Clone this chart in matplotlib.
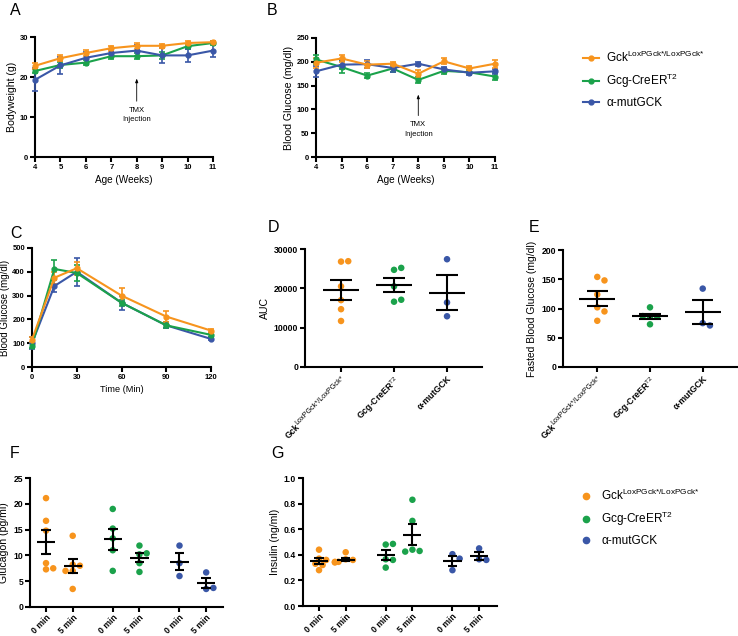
import numpy as np
import matplotlib
matplotlib.use('Agg')
import matplotlib.pyplot as plt
from matplotlib.lines import Line2D

plt.rcParams['font.family'] = 'Liberation Sans'
plt.rcParams['font.weight'] = 'bold'
plt.rcParams['mathtext.fontset'] = 'custom'
plt.rcParams['mathtext.rm'] = 'Liberation Sans:weight=normal'
plt.rcParams['mathtext.it'] = 'Liberation Sans:italic:weight=normal'
plt.rcParams['mathtext.bf'] = 'Liberation Sans:bold'

ORANGE, GREEN, BLUE = '#F7941D', '#1BA24B', '#3A57A7'
colors = [ORANGE, GREEN, BLUE]
names = ['Gck$^{\\mathrm{LoxPGck{*}/LoxPGck{*}}}$', 'Gcg-CreER$^{\\mathrm{T2}}$', '\u03b1-mutGCK']

# A - bodyweight
weeks = [4, 5, 6, 7, 8, 9, 10, 11]
bw_ctrl = [22.8, 24.7, 26.0, 27.2, 27.8, 27.8, 28.5, 28.7]
bw_ctrl_err = [0.8, 0.7, 0.8, 0.6, 0.7, 0.5, 0.4, 0.4]
bw_cre = [21.5, 23.0, 23.6, 25.2, 25.2, 25.4, 27.7, 28.5]
bw_cre_err = [0.6, 0.8, 0.7, 0.6, 0.7, 0.8, 0.6, 0.5]
bw_mut = [19.3, 22.9, 24.8, 26.0, 26.6, 25.4, 25.4, 26.6]
bw_mut_err = [2.9, 2.2, 1.4, 0.9, 1.3, 1.8, 1.6, 1.6]

# B - blood glucose
bg_ctrl = [198, 207, 194, 196, 175, 201, 186, 196]
bg_ctrl_err = [10, 8, 7, 4, 8, 6, 5, 8]
bg_cre = [205, 189, 171, 186, 162, 181, 178, 169]
bg_cre_err = [10, 12, 6, 7, 6, 6, 4, 7]
bg_mut = [180, 194, 195, 187, 196, 184, 177, 180]
bg_mut_err = [12, 10, 8, 8, 4, 6, 4, 5]

# C - GTT
gtt_t = [0, 15, 30, 60, 90, 120]
gtt_ctrl = [115, 375, 415, 300, 212, 153]
gtt_ctrl_err = [12, 25, 28, 30, 22, 8]
gtt_cre = [90, 412, 395, 270, 175, 135]
gtt_cre_err = [10, 38, 35, 12, 12, 8]
gtt_mut = [100, 340, 400, 270, 175, 118]
gtt_mut_err = [25, 25, 60, 30, 12, 6]

# D - AUC
auc_ctrl = [26800, 26900, 20500, 17000, 14700, 11700]
auc_cre = [24700, 25200, 20500, 16600, 17100]
auc_mut = [27400, 16400, 12900]

# E - fasted blood glucose
fbg_ctrl = [154, 148, 124, 102, 95, 79]
fbg_cre = [102, 86, 86, 87, 73]
fbg_mut = [134, 75, 71]

# F - glucagon (0 min, 5 min per group)
gcg_ctrl_0 = [21.1, 16.7, 14.8, 8.5, 7.3, 7.5]
gcg_ctrl_5 = [13.8, 8.2, 7.0, 8.0, 7.0, 3.5]
gcg_cre_0 = [19.0, 15.2, 13.3, 11.0, 7.0]
gcg_cre_5 = [11.9, 10.2, 10.4, 8.5, 6.8]
gcg_mut_0 = [11.9, 8.5, 6.0]
gcg_mut_5 = [6.7, 3.5, 3.7]

# G - insulin
ins_ctrl_0 = [0.44, 0.37, 0.36, 0.33, 0.32, 0.28]
ins_ctrl_5 = [0.42, 0.365, 0.36, 0.345, 0.345, 0.34]
ins_cre_0 = [0.48, 0.485, 0.365, 0.36, 0.30]
ins_cre_5 = [0.83, 0.665, 0.44, 0.43, 0.425]
ins_mut_0 = [0.405, 0.37, 0.28]
ins_mut_5 = [0.45, 0.365, 0.36]

W, H = 738, 636
fig = plt.figure(figsize=(W / 100, H / 100), dpi=100)


def add_ax(l, t, r, b):
    return fig.add_axes([l / W, 1 - b / H, (r - l) / W, (b - t) / H])


def style(ax, ls=5.5):
    for s in ['top', 'right']:
        ax.spines[s].set_visible(False)
    for s in ['left', 'bottom']:
        ax.spines[s].set_linewidth(1.5)
    ax.tick_params(width=1.5, length=3.5, labelsize=ls, pad=1.5)


def line_panel(ax, x, series):
    for y, e, c in series:
        ax.errorbar(x, y, yerr=e, color=c, lw=1.5, marker='o', ms=3.5,
                    capsize=2, elinewidth=1.2, capthick=1.2, clip_on=False, zorder=3)


def swarm(ax, vals, dot_px=6.0):
    bb = ax.get_position()
    x0, x1 = ax.get_xlim()
    y0, y1 = ax.get_ylim()
    xpx = bb.width * W / (x1 - x0)
    ypx = bb.height * H / (y1 - y0)
    placed = []
    offs = []
    for v in vals:
        yp = v * ypx
        for k in [0, 1, -1, 2, -2, 3, -3]:
            xp = k * dot_px * 0.6
            if all(np.hypot(xp - px, yp - py) >= dot_px for px, py in placed):
                break
        placed.append((xp, yp))
        offs.append(xp / xpx)
    return np.array(offs)


def dot_panel(ax, groups, positions, cols, mw=0.34, cw=0.2):
    for vals, pos, c in zip(groups, positions, cols):
        vals = np.array(vals)
        ax.scatter(pos + swarm(ax, vals), vals, s=22, color=c, edgecolors='none',
                   zorder=3, clip_on=False)
        m = vals.mean()
        se = vals.std(ddof=1) / np.sqrt(len(vals))
        ax.hlines(m, pos - mw, pos + mw, color='k', lw=1.5, zorder=4)
        ax.hlines([m - se, m + se], pos - cw, pos + cw, color='k', lw=1.5, zorder=4)
        ax.vlines(pos, m - se, m + se, color='k', lw=1.5, zorder=4)


def group_ticks(ax, fs=6.3, fs_sup=5.2):
    # first label drawn by hand so its superscript can stay large
    ax.set_xticks([0, 1, 2])
    ax.set_xticklabels([''] + names[1:], rotation=45, ha='right',
                       rotation_mode='anchor', fontsize=fs)
    sup = 'LoxPGck*/LoxPGck*'
    t = fig.text(0, 0, sup, fontsize=fs_sup, fontweight='normal')
    w = t.get_window_extent(fig.canvas.get_renderer()).width * 72 / fig.dpi
    t.remove()
    c = np.cos(np.radians(45))
    kw = dict(xy=(0, 0), xycoords=('data', 'axes fraction'), textcoords='offset points',
              rotation=45, rotation_mode='anchor', ha='right', va='top',
              annotation_clip=False)
    ax.annotate(sup, xytext=(0, -5), fontsize=fs_sup, fontweight='normal', **kw)
    ax.annotate('Gck', xytext=(-w * c + 1.2 * c, -5 - w * c - 1.2 * c), fontsize=fs,
                fontweight='bold', **kw)


# A
axA = add_ax(35, 37, 213, 157)
line_panel(axA, weeks, [(bw_cre, bw_cre_err, GREEN), (bw_mut, bw_mut_err, BLUE),
                        (bw_ctrl, bw_ctrl_err, ORANGE)])
axA.set_xlim(4, 11)
axA.set_ylim(0, 30)
axA.set_yticks([0, 10, 20, 30])
axA.set_xticks(weeks)
axA.set_xlabel('Age (Weeks)', fontsize=7.2, labelpad=3)
axA.set_ylabel('Bodyweight (g)', fontsize=7.6, labelpad=2)
axA.annotate('TMX\nInjection', xy=(8, 20.3), xytext=(8, 10.5), ha='center', va='center',
             fontsize=5.5, fontweight='normal', linespacing=1.5,
             arrowprops=dict(arrowstyle='-|>,head_length=0.4,head_width=0.15', color='k', lw=0.6))
style(axA)

# B
axB = add_ax(316, 38, 495, 157)
line_panel(axB, weeks, [(bg_cre, bg_cre_err, GREEN), (bg_mut, bg_mut_err, BLUE),
                        (bg_ctrl, bg_ctrl_err, ORANGE)])
axB.set_xlim(4, 11)
axB.set_ylim(0, 250)
axB.set_yticks([0, 50, 100, 150, 200, 250])
axB.set_xticks(weeks)
axB.set_xlabel('Age (Weeks)', fontsize=7.2, labelpad=3)
axB.set_ylabel('Blood Glucose (mg/dl)', fontsize=7.6, labelpad=2)
axB.annotate('TMX\nInjection', xy=(8, 137), xytext=(8, 58), ha='center', va='center',
             fontsize=5.5, fontweight='normal', linespacing=1.5,
             arrowprops=dict(arrowstyle='-|>,head_length=0.4,head_width=0.15', color='k', lw=0.6))
style(axB)

# C
axC = add_ax(32, 248, 211, 367)
line_panel(axC, gtt_t, [(gtt_mut, gtt_mut_err, BLUE), (gtt_cre, gtt_cre_err, GREEN),
                        (gtt_ctrl, gtt_ctrl_err, ORANGE)])
axC.set_xlim(0, 120)
axC.set_ylim(0, 500)
axC.set_xticks([0, 30, 60, 90, 120])
axC.set_yticks([0, 100, 200, 300, 400, 500])
axC.set_xlabel('Time (Min)', fontsize=6.6, labelpad=3)
axC.set_ylabel('Blood Glucose (mg/dl)', fontsize=7, labelpad=2)
style(axC)

# D
axD = add_ax(305, 249, 482, 367)
axD.set_xlim(-0.68, 2.66)
axD.set_ylim(0, 30000)
dot_panel(axD, [auc_ctrl, auc_cre, auc_mut], [0, 1, 2], colors)
axD.set_yticks([0, 10000, 20000, 30000])
axD.set_ylabel('AUC', fontsize=7.6, labelpad=3)
style(axD, 6.2)
group_ticks(axD)

# E
axE = add_ax(563, 250, 737, 367)
axE.set_xlim(-0.65, 2.65)
axE.set_ylim(0, 200)
dot_panel(axE, [fbg_ctrl, fbg_cre, fbg_mut], [0, 1, 2], colors)
axE.set_yticks([0, 50, 100, 150, 200])
axE.set_ylabel('Fasted Blood Glucose (mg/dl)', fontsize=7.4, labelpad=3)
style(axE, 6.2)
group_ticks(axE)

# F / G
pos6 = [0, 1, 2.5, 3.5, 5, 6]
col6 = [ORANGE, ORANGE, GREEN, GREEN, BLUE, BLUE]
min_labels = ['0 min', '5 min'] * 3

axF = add_ax(30, 478, 223, 607)
axF.set_xlim(-0.6, 6.63)
axF.set_ylim(0, 25)
dot_panel(axF, [gcg_ctrl_0, gcg_ctrl_5, gcg_cre_0, gcg_cre_5, gcg_mut_0, gcg_mut_5],
          pos6, col6, mw=0.34, cw=0.18)
axF.set_yticks([0, 5, 10, 15, 20, 25])
axF.set_xticks(pos6)
style(axF, 6.2)
axF.tick_params(axis='x', pad=1)
axF.set_xticklabels(min_labels, rotation=45, ha='right', rotation_mode='anchor', fontsize=6.2)
axF.set_ylabel('Glucagon (pg/ml)', fontsize=7.6, labelpad=3)

axG = add_ax(303, 478, 497, 606)
axG.set_xlim(-0.6, 6.67)
axG.set_ylim(0, 1.0)
dot_panel(axG, [ins_ctrl_0, ins_ctrl_5, ins_cre_0, ins_cre_5, ins_mut_0, ins_mut_5],
          pos6, col6, mw=0.34, cw=0.18)
axG.set_yticks([0, 0.2, 0.4, 0.6, 0.8, 1.0])
axG.set_yticklabels(['0.0', '0.2', '0.4', '0.6', '0.8', '1.0'])
axG.set_xticks(pos6)
style(axG, 6.2)
axG.tick_params(axis='x', pad=1)
axG.set_xticklabels(min_labels, rotation=45, ha='right', rotation_mode='anchor', fontsize=6.2)
axG.set_ylabel('Insulin (ng/ml)', fontsize=7.6, labelpad=3)

# panel letters
for letter, x, y in [('A', 10, 3), ('B', 267, 3), ('C', 10, 226), ('D', 268, 220),
                     ('E', 529, 220), ('F', 10, 446), ('G', 271, 446)]:
    fig.text(x / W, 1 - y / H, letter, fontsize=11.5, fontweight='normal', va='top', ha='left')

# legends
h_line = [Line2D([], [], color=c, lw=1.5, marker='o', ms=3.5) for c in colors]
fig.legend(h_line, names, loc='upper left', bbox_to_anchor=(572 / W, 1 - 39 / H),
           frameon=False, handlelength=1.4, handletextpad=0.6, labelspacing=0.6,
           prop={'size': 8.5, 'weight': 'normal'})
h_dot = [Line2D([], [], color=c, ls='none', marker='o', ms=4.5) for c in colors]
fig.legend(h_dot, names, loc='upper left', bbox_to_anchor=(567 / W, 1 - 477 / H),
           frameon=False, handlelength=1.4, handletextpad=0.6, labelspacing=0.6,
           prop={'size': 8.5, 'weight': 'normal'})

fig.savefig('out.png', dpi=100)
